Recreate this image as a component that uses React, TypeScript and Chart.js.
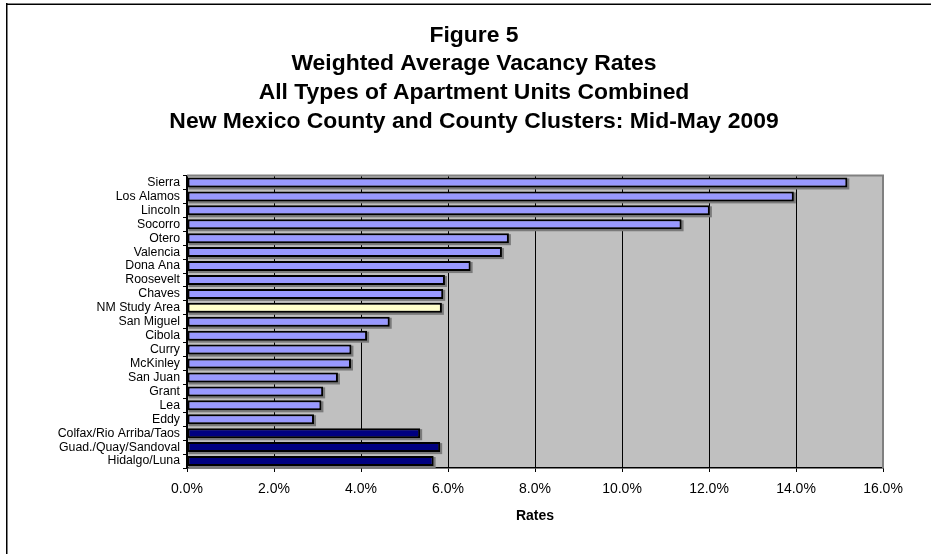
import React, { useEffect, useRef } from "react";
import { Chart, registerables } from "chart.js";

Chart.register(...registerables);

const titleLines = [
  "Figure 5",
  "Weighted Average Vacancy Rates",
  "All Types of Apartment Units Combined",
  "New Mexico County and County Clusters: Mid-May 2009",
];

const categories = [
  "Sierra",
  "Los Alamos",
  "Lincoln",
  "Socorro",
  "Otero",
  "Valencia",
  "Dona Ana",
  "Roosevelt",
  "Chaves",
  "NM Study Area",
  "San Miguel",
  "Cibola",
  "Curry",
  "McKinley",
  "San Juan",
  "Grant",
  "Lea",
  "Eddy",
  "Colfax/Rio Arriba/Taos",
  "Guad./Quay/Sandoval",
  "Hidalgo/Luna",
];

const rates = [
  15.18, 13.95, 12.02, 11.37, 7.4, 7.24, 6.52, 5.93, 5.89, 5.86, 4.66, 4.14,
  3.78, 3.77, 3.47, 3.13, 3.09, 2.92, 5.36, 5.82, 5.67,
];

// group of each bar: "county", "area", "cluster"
const groups = [
  "county", "county", "county", "county", "county", "county", "county",
  "county", "county", "area", "county", "county", "county", "county",
  "county", "county", "county", "county", "cluster", "cluster", "cluster",
];

const groupColors: Record<string, string> = {
  county: "#9999FF",
  area: "#FFFFCC",
  cluster: "#000080",
};

const xTitle = "Rates";
const FONT = "'Liberation Sans', Arial, Helvetica, sans-serif";

const framePlugin = {
  id: "frameAndPlot",
  beforeDraw(chart: any) {
    const { ctx, chartArea } = chart;
    ctx.save();
    ctx.fillStyle = "#ffffff";
    ctx.fillRect(0, 0, chart.width, chart.height);
    // outer frame
    ctx.fillStyle = "#808080";
    ctx.fillRect(6, 3, chart.width - 6, 1);
    ctx.fillStyle = "#000000";
    ctx.fillRect(6, 4, chart.width - 6, 1);
    ctx.fillRect(6, 3, 1.5, chart.height - 3);
    // plot background
    ctx.fillStyle = "#C0C0C0";
    ctx.fillRect(
      chartArea.left,
      chartArea.top,
      chartArea.right - chartArea.left,
      chartArea.bottom - chartArea.top
    );
    // title (centred over the whole figure)
    ctx.fillStyle = "#000000";
    ctx.font = "bold 22.9px " + FONT;
    ctx.textAlign = "center";
    ctx.textBaseline = "middle";
    titleLines.forEach((line, i) => {
      ctx.fillText(line, 474, 35.5 + i * 28.6);
    });
    ctx.restore();
  },
  beforeDatasetsDraw(chart: any) {
    const { ctx } = chart;
    const meta = chart.getDatasetMeta(0);
    ctx.save();
    ctx.fillStyle = "#7a7a7a";
    meta.data.forEach((bar: any) => {
      const top = bar.y - bar.height / 2;
      ctx.fillRect(bar.base + 1, top + 1, bar.x - bar.base + 1, bar.height + 1);
    });
    ctx.restore();
  },
  afterDraw(chart: any) {
    const { ctx, chartArea } = chart;
    ctx.save();
    ctx.strokeStyle = "#808080";
    ctx.lineWidth = 2;
    ctx.beginPath();
    ctx.moveTo(chartArea.left, chartArea.top);
    ctx.lineTo(chartArea.right, chartArea.top);
    ctx.lineTo(chartArea.right, chartArea.bottom);
    ctx.stroke();
    ctx.restore();
  },
};

export default function App() {
  const canvasRef = useRef<HTMLCanvasElement | null>(null);

  useEffect(() => {
    if (!canvasRef.current) return;
    const chart = new Chart(canvasRef.current, {
      type: "bar",
      data: {
        labels: categories,
        datasets: [
          {
            data: rates,
            backgroundColor: groups.map((g) => groupColors[g]),
            borderColor: "#000000",
            borderWidth: 2,
            borderSkipped: false,
            barPercentage: 0.72,
            categoryPercentage: 1,
          },
        ],
      },
      options: {
        indexAxis: "y",
        responsive: false,
        animation: false,
        layout: { padding: { left: 0, right: 48, top: 175.5, bottom: 0 } },
        plugins: {
          legend: { display: false },
          tooltip: { enabled: false },
          title: { display: false },
        },
        scales: {
          x: {
            type: "linear",
            min: 0,
            max: 16,
            afterFit: (scale: any) => {
              scale.height = 86;
            },
            ticks: {
              stepSize: 2,
              color: "#000000",
              padding: 9,
              font: { family: FONT, size: 14 },
              callback: (v: any) => Number(v).toFixed(1) + "%",
            },
            grid: {
              color: "#000000",
              lineWidth: 1,
              tickLength: 4,
              tickColor: "#000000",
            },
            border: { display: true, color: "#000000", width: 1.5 },
            title: {
              display: true,
              text: xTitle,
              color: "#000000",
              font: { family: FONT, size: 14, weight: "bold" },
              padding: { top: 4, bottom: 29 },
            },
          },
          y: {
            type: "category",
            afterFit: (scale: any) => {
              scale.width = 187;
            },
            ticks: {
              color: "#000000",
              padding: 3,
              autoSkip: false,
              font: { family: FONT, size: 12.3 },
            },
            grid: {
              offset: true,
              drawOnChartArea: false,
              tickLength: 4,
              tickColor: "#000000",
              color: "#000000",
            },
            border: { display: true, color: "#000000", width: 1.5 },
          },
        },
      },
      plugins: [framePlugin],
    });
    return () => chart.destroy();
  }, []);

  return (
    <div
      style={{
        position: "fixed",
        left: 0,
        top: 0,
        width: 931,
        height: 554,
        background: "#ffffff",
      }}
    >
      <canvas ref={canvasRef} width={931} height={554} />
    </div>
  );
}
